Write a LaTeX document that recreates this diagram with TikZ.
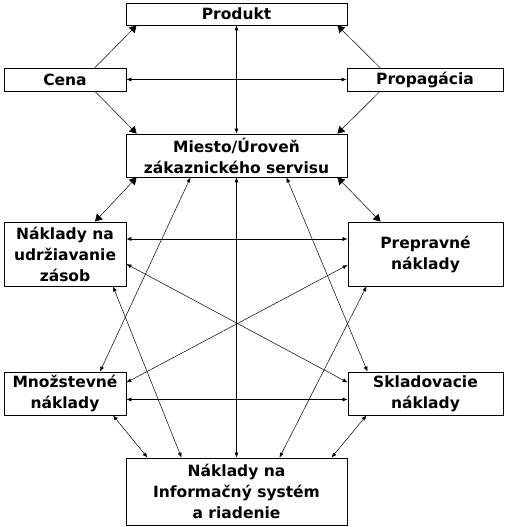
\documentclass[tikz,border=0pt]{standalone}
\usepackage{fontspec}
\setmainfont{DejaVu Sans}
\usetikzlibrary{arrows.meta}

\begin{document}
\begin{tikzpicture}[x=1pt, y=-1pt,
    costbox/.style={draw, line width=0.8pt, inner sep=0pt, align=center,
        font=\fontsize{15.5}{21}\selectfont\bfseries},
    link/.style={{Latex[length=5pt,width=4pt]}-{Latex[length=5pt,width=4pt]}, line width=0.5pt},
    biglink/.style={-{Triangle[length=7pt,width=8pt]}, line width=0.5pt},
    bigboth/.style={{Triangle[length=7pt,width=8pt]}-{Triangle[length=7pt,width=8pt]}, line width=0.5pt}]
    \useasboundingbox (0,0) rectangle (508,527);
    % marketing mix
    \node[costbox, minimum width=221pt, minimum height=22pt] (prod) at (236.5,14) {Produkt};
    \node[costbox, minimum width=122pt, minimum height=23pt] (cena) at (65,79.5) {Cena};
    \node[costbox, minimum width=156pt, minimum height=23pt] (prop) at (425,79.5) {Propagácia};
    \node[costbox, minimum width=221pt, minimum height=43pt] (miesto) at (236.5,155.5) {Miesto/Úroveň\\zákaznického servisu};
    % logistic costs
    \node[costbox, minimum width=122pt, minimum height=64pt] (udrz) at (65,254) {Náklady na\\udržiavanie\\zásob};
    \node[costbox, minimum width=155pt, minimum height=64pt] (prep) at (425.5,254) {Prepravné\\náklady};
    \node[costbox, minimum width=122pt, minimum height=43pt] (mnoz) at (65,393.5) {Množstevné\\náklady};
    \node[costbox, minimum width=155pt, minimum height=43pt] (sklad) at (425.5,393.5) {Skladovacie\\náklady};
    \node[costbox, minimum width=221pt, minimum height=67pt] (info) at (236.5,491.5) {Náklady na\\Informačný systém\\a riadenie};

    \draw[biglink] ([xshift=30]cena.north) -- ([xshift=11]prod.south west);
    \draw[biglink] ([xshift=30]cena.south) -- ([xshift=11]miesto.north west);
    \draw[biglink] ([xshift=-45]prop.north) -- ([xshift=-10]prod.south east);
    \draw[biglink] ([xshift=-45]prop.south) -- ([xshift=-10]miesto.north east);
    \draw[link] (cena.east) -- (prop.west);
    \draw[link] (prod.south) -- (miesto.north);

    \draw[bigboth] ([xshift=11]miesto.south west) -- ([xshift=30]udrz.north);
    \draw[bigboth] ([xshift=-10]miesto.south east) -- ([xshift=-45]prep.north);
    \draw[link] ([xshift=-46]miesto.south) -- ([xshift=35]mnoz.north);
    \draw[link] (miesto.south) -- (info.north);
    \draw[link] ([xshift=50]miesto.south) -- ([xshift=-58]sklad.north);

    \draw[link] ([yshift=15]udrz.east) -- ([yshift=15]prep.west);
    \draw[link] ([yshift=-10]udrz.east) -- ([yshift=11]sklad.west);
    \draw[link] ([yshift=-11]prep.west) -- ([yshift=11]mnoz.east);
    \draw[link] ([xshift=48]udrz.south) -- ([xshift=-55]info.north);
    \draw[link] ([xshift=-59]prep.south) -- ([xshift=43]info.north);

    \draw[link] ([yshift=-6]mnoz.east) -- ([yshift=-6]sklad.west);
    \draw[link] ([xshift=48]mnoz.south) -- ([xshift=-89]info.north);
    \draw[link] ([xshift=-59]sklad.south) -- ([xshift=95]info.north);
\end{tikzpicture}
\end{document}
